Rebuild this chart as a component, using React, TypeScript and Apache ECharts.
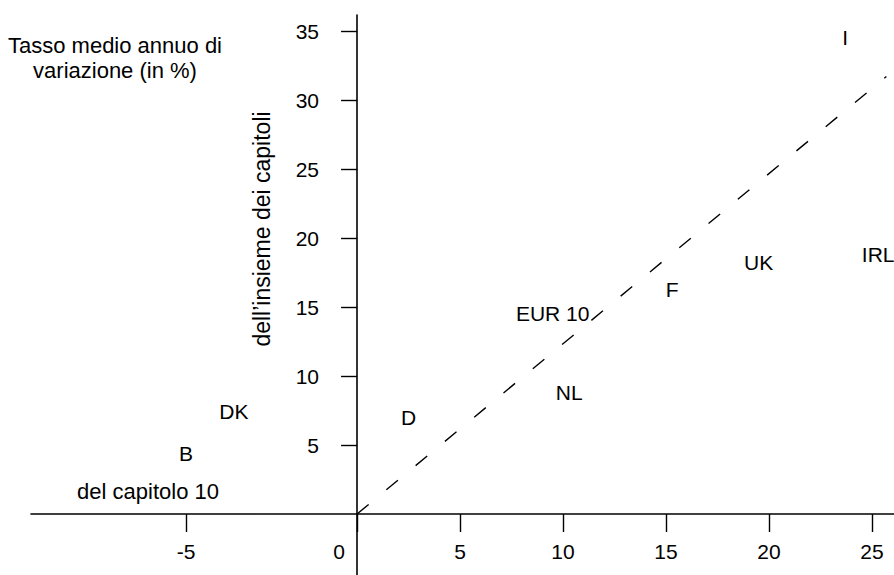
import React, { useEffect, useRef } from "react";
import * as echarts from "echarts";

// Country labels and their values (x: del capitolo 10, y: dell'insieme dei capitoli)
const NAMES = ["B", "DK", "D", "EUR 10", "NL", "F", "UK", "IRL", "I"];
const X_VALS = [-5.0, -3.6, 2.5, 9.5, 10.3, 15.3, 19.5, 25.3, 23.7];
const Y_VALS = [4.35, 7.4, 7.0, 14.5, 8.8, 16.3, 18.2, 18.8, 34.5];

// Dashed reference line
const LINE_X = [0, 25.7];
const LINE_Y = [0, 31.7];

// Tick labels
const X_TICKS = [-5, 0, 5, 10, 15, 20, 25];
const Y_TICKS = [5, 10, 15, 20, 25, 30, 35];

// The negative side of the x axis is drawn at a larger scale in the original
const NEG_SCALE = 1.66;
const toDisp = (v: number) => (v < 0 ? v * NEG_SCALE : v);

const FONT = "Liberation Sans, Arial, Helvetica, sans-serif";
const FS = 21;

// axis extents (display units)
const X_MIN = -15.83;
const X_MAX = 26.07;
const Y_MIN = -4.42;
const Y_MAX = 36.16;

export default function App() {
  const ref = useRef<HTMLDivElement>(null);
  useEffect(() => {
    if (!ref.current) return;
    const chart = echarts.init(ref.current, undefined, { renderer: "svg" });
    const W = 894, H = 575;
    const gl = 31, gr = 0, gt = 15, gb = 0;
    const gw = W - gl - gr, gh = H - gt - gb;
    // place axes through the origin (offset moves line, ticks and labels together)
    const yAxisOffset = -((0 - X_MIN) / (X_MAX - X_MIN)) * gw;
    const xAxisOffset = -((0 - Y_MIN) / (Y_MAX - Y_MIN)) * gh;
    const xTickDisp = X_TICKS.map(toDisp);
    const xLabel = (v: number) => {
      const i = xTickDisp.findIndex((t) => Math.abs(t - v) < 1e-6);
      if (i < 0) return "";
      const t = X_TICKS[i];
      return t === 0 ? "{z|0}" : String(t);
    };
    const axisColor = "#000";
    chart.setOption({
      animation: false,
      backgroundColor: "#fff",
      grid: {
        left: gl,
        right: gr,
        top: gt,
        bottom: gb,
        containLabel: false,
        outerBoundsMode: "none",
      },
      xAxis: {
        type: "value",
        min: X_MIN,
        max: X_MAX,
        offset: xAxisOffset,
        splitLine: { show: false },
        axisLine: { onZero: false, lineStyle: { color: axisColor, width: 1.6 } },
        axisTick: {
          show: true,
          length: 18,
          customValues: xTickDisp,
          lineStyle: { color: axisColor, width: 1.4 },
        },
        axisLabel: {
          customValues: xTickDisp,
          formatter: xLabel,
          margin: 27,
          color: "#000",
          fontSize: FS,
          fontFamily: FONT,
          hideOverlap: false,
          rich: {
            z: { padding: [0, 36, 0, 0], fontSize: FS, fontFamily: FONT, color: "#000" },
          },
        },
      },
      yAxis: {
        type: "value",
        min: Y_MIN,
        max: Y_MAX,
        offset: yAxisOffset,
        splitLine: { show: false },
        axisLine: { onZero: false, lineStyle: { color: axisColor, width: 1.6 } },
        axisTick: {
          show: true,
          length: 16,
          customValues: Y_TICKS,
          lineStyle: { color: axisColor, width: 1.4 },
        },
        axisLabel: {
          customValues: Y_TICKS,
          margin: 38,
          color: "#000",
          fontSize: FS,
          fontFamily: FONT,
        },
      },
      series: [
        {
          type: "line",
          data: LINE_X.map((x, i) => [x, LINE_Y[i]]),
          symbol: "none",
          silent: true,
          lineStyle: { color: "#000", width: 1.4, type: [15, 23] },
        },
        {
          type: "scatter",
          data: NAMES.map((n, i) => ({ name: n, value: [toDisp(X_VALS[i]), Y_VALS[i]] })),
          symbolSize: 1,
          itemStyle: { color: "rgba(0,0,0,0)", opacity: 1 },
          label: {
            show: true,
            position: "inside",
            formatter: (p: any) => p.name,
            color: "#000",
            opacity: 1,
            fontSize: FS,
            fontFamily: FONT,
          },
        },
      ],
      graphic: [
        {
          type: "text",
          x: 115,
          y: 58,
          style: {
            text: "Tasso medio annuo di\nvariazione (in %)",
            fontSize: 22,
            fontFamily: FONT,
            fill: "#000",
            align: "center",
            verticalAlign: "middle",
            lineHeight: 25,
          },
        },
        {
          type: "text",
          x: 262,
          y: 229,
          rotation: Math.PI / 2,
          style: {
            text: "dell\u2019insieme dei capitoli",
            fontSize: 23,
            fontFamily: FONT,
            fill: "#000",
            align: "center",
            verticalAlign: "middle",
          },
        },
        {
          type: "text",
          x: 148,
          y: 491,
          style: {
            text: "del capitolo 10",
            fontSize: 22,
            fontFamily: FONT,
            fill: "#000",
            align: "center",
            verticalAlign: "middle",
          },
        },
      ],
    });
    return () => chart.dispose();
  }, []);
  return (
    <div
      ref={ref}
      style={{ position: "absolute", left: 0, top: 0, width: 894, height: 575, background: "#fff" }}
    />
  );
}
